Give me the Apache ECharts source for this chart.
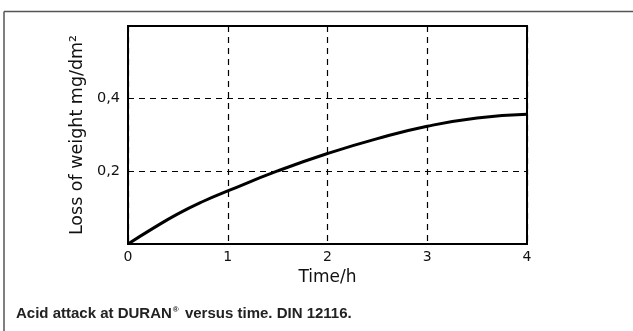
<!DOCTYPE html>
<html>
<head>
<meta charset="utf-8">
<script src="https://cdn.jsdelivr.net/npm/echarts@6/dist/echarts.min.js"></script>
<style>
html,body{margin:0;padding:0;background:#fff;}
#chart{width:633px;height:331px;}
</style>
</head>
<body>
<div id="chart"></div>
<script>
const timeHours = [0, 0.25, 0.5, 0.75, 1, 1.5, 2, 2.5, 3, 3.5, 4];
const weightLoss = [0, 0.043, 0.083, 0.117, 0.146, 0.201, 0.249, 0.29, 0.324, 0.347, 0.357];
const xTicks = ['0', '1', '2', '3', '4'];
const yTickLabels = {0.2: '0,2', 0.4: '0,4'};
const titleParts = ['Acid attack at DURAN', '\u00AE', ' versus time. DIN 12116.'];
const xName = 'Time/h';
const yName = 'Loss of weight mg/dm\u00B2';

const chart = echarts.init(document.getElementById('chart'), null, {renderer: 'canvas'});
const dashed = {type: [6, 5], color: '#000', width: 1.2};
const capFont = "'Liberation Sans', Arial, sans-serif";
chart.setOption({
  animation: false,
  backgroundColor: '#fff',
  title: {
    text: '{a|' + titleParts[0] + '}{s|' + titleParts[1] + '}{a|' + titleParts[2] + '}',
    left: 11, top: 301,
    textStyle: {
      rich: {
        a: {fontFamily: capFont, fontWeight: 'bold', fontSize: 15, color: '#222', letterSpacing: -0.6},
        s: {fontFamily: capFont, fontWeight: 'bold', fontSize: 8, color: '#222', verticalAlign: 'top', padding: [0, 2, 6, 1]}
      }
    }
  },
  graphic: [
    {type: 'line', shape: {x1: 4, y1: 11.5, x2: 633, y2: 11.5}, style: {stroke: '#555', lineWidth: 1.5}},
    {type: 'line', shape: {x1: 4, y1: 11.5, x2: 4, y2: 331}, style: {stroke: '#555', lineWidth: 1.5}}
  ],
  grid: {left: 128, top: 26, width: 399, height: 218, show: true, borderColor: '#000', borderWidth: 2, containLabel: false},
  xAxis: {
    type: 'value', min: 0, max: 4, interval: 1,
    name: xName, nameLocation: 'middle', nameGap: 17,
    nameTextStyle: {fontFamily: 'DejaVu Sans', fontSize: 17, color: '#111'},
    axisLine: {show: false}, axisTick: {show: false},
    axisLabel: {margin: 6, fontFamily: 'DejaVu Sans', fontSize: 14, color: '#111',
      formatter: v => xTicks[Math.round(v)]},
    splitLine: {show: true, lineStyle: dashed}
  },
  yAxis: {
    type: 'value', min: 0, max: 0.6, interval: 0.2,
    name: yName, nameLocation: 'middle', nameGap: 42,
    nameTextStyle: {fontFamily: 'DejaVu Sans', fontSize: 17.5, color: '#111'},
    axisLine: {show: false}, axisTick: {show: false},
    axisLabel: {margin: 8, fontFamily: 'DejaVu Sans', fontSize: 14.5, color: '#111',
      formatter: v => yTickLabels[Math.round(v * 10) / 10] || ''},
    splitLine: {show: true, lineStyle: dashed}
  },
  series: [{
    type: 'line', smooth: true, symbol: 'none',
    lineStyle: {color: '#000', width: 3},
    data: timeHours.map((t, i) => [t, weightLoss[i]])
  }]
});
</script>
</body>
</html>
